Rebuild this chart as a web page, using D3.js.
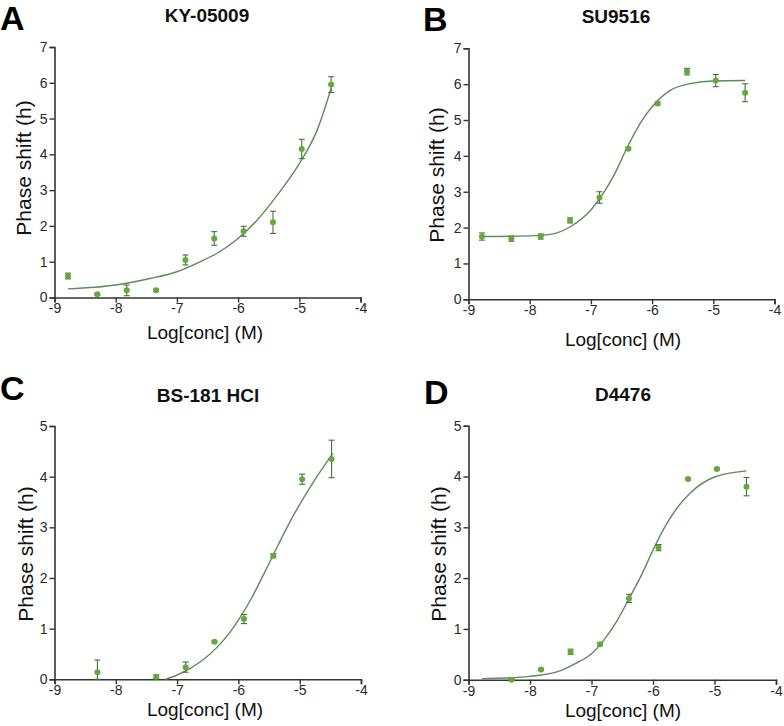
<!DOCTYPE html>
<html>
<head>
<meta charset="utf-8">
<script src="https://cdn.jsdelivr.net/npm/d3@7"></script>
<style>
  body { margin: 0; background: #fff; }
  svg { display: block; font-family: "Liberation Sans", Arial, sans-serif; }
</style>
</head>
<body>
<div class="board"></div>
<script>
// log concentrations (3-fold dilutions)
const logConc = [-8.78, -8.30, -7.82, -7.34, -6.86, -6.39, -5.91, -5.43, -4.96, -4.48];
const xTicks = [-9, -8, -7, -6, -5, -4];
const yTicks7 = [0, 1, 2, 3, 4, 5, 6, 7];
const yTicks5 = [0, 1, 2, 3, 4, 5];

// A: KY-05009
const kyMean = [0.60, 0.09, 0.20, 0.20, 1.05, 1.65, 1.85, 2.10, 4.15, 5.95];
const kyErr  = [0.08, 0.03, 0.15, 0.03, 0.14, 0.19, 0.14, 0.31, 0.27, 0.22];
const kyFitX = [-8.78, -8.0, -7.44, -7.0, -6.62, -6.35, -6.0, -5.69, -5.36, -5.0, -4.71, -4.48];
const kyFitY = [0.24, 0.35, 0.53, 0.72, 1.0, 1.23, 1.65, 2.16, 2.86, 3.74, 4.67, 5.84];

// B: SU9516
const suMean = [1.75, 1.69, 1.75, 2.20, 2.84, 4.20, 5.46, 6.35, 6.10, 5.76];
const suErr  = [0.10, 0.07, 0.07, 0.07, 0.16, 0.04, 0.04, 0.09, 0.17, 0.25];
const suFitX = [-8.78, -8.0, -7.66, -7.33, -7.0, -6.78, -6.62, -6.40, -6.18, -6.0, -5.69, -5.36, -5.0, -4.48];
const suFitY = [1.75, 1.77, 1.81, 2.03, 2.49, 3.0, 3.47, 4.26, 4.95, 5.37, 5.84, 6.02, 6.09, 6.10];

// C: BS-181 HCl (no data at -8.78 and -7.82)
const bsMean = [null, 0.14, null, 0.05, 0.24, 0.74, 1.19, 2.44, 3.95, 4.35];
const bsErr  = [null, 0.24, null, 0.04, 0.10, 0.02, 0.09, 0.04, 0.10, 0.37];
const bsFitX = [-7.19, -7.0, -6.78, -6.57, -6.35, -6.13, -6.0, -5.80, -5.58, -5.36, -5.1, -4.8, -4.46];
const bsFitY = [0, 0.085, 0.22, 0.39, 0.63, 0.94, 1.17, 1.57, 2.09, 2.63, 3.24, 3.85, 4.46];

// D: D4476 (no data at -8.78)
const d4Mean = [null, 0.0, 0.20, 0.55, 0.70, 1.60, 2.60, 3.95, 4.15, 3.80];
const d4Err  = [null, 0.01, 0.02, 0.05, 0.03, 0.08, 0.06, 0.02, 0.02, 0.18];
const d4FitX = [-8.78, -8.0, -7.5, -7.24, -7.0, -6.8, -6.58, -6.37, -6.2, -6.0, -5.83, -5.61, -5.39, -5.0, -4.48];
const d4FitY = [0.02, 0.066, 0.18, 0.33, 0.51, 0.78, 1.17, 1.64, 2.03, 2.55, 2.96, 3.38, 3.68, 3.99, 4.11];

const panels = [
  { letter: 'A', title: 'KY-05009', mean: kyMean, err: kyErr, fitX: kyFitX, fitY: kyFitY, yTicks: yTicks7,
    x0: 54.5, x1: 360.5, y0: 297.5, y1: 47, lx: 0, ly: 30, tx: 207, ty: 22, xlx: 205, xly: 339, ylx: 23, yly: 168 },
  { letter: 'B', title: 'SU9516', mean: suMean, err: suErr, fitX: suFitX, fitY: suFitY, yTicks: yTicks7,
    x0: 468.5, x1: 774.5, y0: 299.3, y1: 48.3, lx: 423, ly: 31, tx: 616, ty: 23, xlx: 623, xly: 346, ylx: 436, yly: 175 },
  { letter: 'C', title: 'BS-181 HCl', mean: bsMean, err: bsErr, fitX: bsFitX, fitY: bsFitY, yTicks: yTicks5,
    x0: 54.5, x1: 361, y0: 679.3, y1: 426, lx: 0, ly: 400, tx: 208, ty: 402, xlx: 205, xly: 716, ylx: 25, yly: 554 },
  { letter: 'D', title: 'D4476', mean: d4Mean, err: d4Err, fitX: d4FitX, fitY: d4FitY, yTicks: yTicks5,
    x0: 468.5, x1: 776, y0: 679.7, y1: 425.7, lx: 424, ly: 404, tx: 623, ty: 401, xlx: 623, xly: 717, ylx: 438, yly: 554 }
];

const svg = d3.select('.board').append('svg')
  .attr('width', 784)
  .attr('height', 726);

panels.forEach(p => {
  const x = d3.scaleLinear().domain([-9, -4]).range([p.x0, p.x1]);
  const yMax = d3.max(p.yTicks);
  const y = d3.scaleLinear().domain([0, yMax]).range([p.y0, p.y1]);
  const g = svg.append('g');

  // axes
  const xAxis = g.append('g')
    .attr('transform', `translate(0,${p.y0})`)
    .call(d3.axisBottom(x).tickValues(xTicks).tickSize(5).tickPadding(1).tickFormat(d => d));
  const yAxis = g.append('g')
    .attr('transform', `translate(${p.x0},0)`)
    .call(d3.axisLeft(y).tickValues(p.yTicks).tickSize(5).tickPadding(2).tickFormat(d => d));
  [xAxis, yAxis].forEach(a => {
    a.attr('font-size', 14).attr('font-family', '"Liberation Sans", Arial, sans-serif');
    a.select('.domain').attr('stroke', '#333').attr('stroke-width', 1.6);
    a.selectAll('.tick line').attr('stroke', '#333').attr('stroke-width', 1.4);
    a.selectAll('.tick text').attr('fill', '#2a2a2a');
  });

  // fitted curve
  const fit = p.fitX.map((v, i) => [v, p.fitY[i]]);
  g.append('path')
    .datum(fit)
    .attr('fill', 'none')
    .attr('stroke', '#5f8a5a')
    .attr('stroke-width', 1.4)
    .attr('d', d3.line().x(d => x(d[0])).y(d => y(d[1])).curve(d3.curveMonotoneX));

  const pts = logConc.map((c, i) => ({ c: c, m: p.mean[i], e: p.err[i] })).filter(d => d.m !== null);

  // error bars
  const eb = g.selectAll('.eb').data(pts).enter().append('g').attr('stroke', '#4d6a45').attr('stroke-width', 1.1);
  eb.append('line')
    .attr('x1', d => x(d.c)).attr('x2', d => x(d.c))
    .attr('y1', d => y(Math.max(0, d.m - d.e))).attr('y2', d => y(d.m + d.e));
  eb.append('line')
    .attr('x1', d => x(d.c) - 3).attr('x2', d => x(d.c) + 3)
    .attr('y1', d => y(d.m + d.e)).attr('y2', d => y(d.m + d.e));
  eb.append('line')
    .attr('x1', d => x(d.c) - 3).attr('x2', d => x(d.c) + 3)
    .attr('y1', d => y(Math.max(0, d.m - d.e))).attr('y2', d => y(Math.max(0, d.m - d.e)));

  // points
  g.selectAll('.pt').data(pts).enter().append('circle')
    .attr('cx', d => x(d.c))
    .attr('cy', d => y(d.m))
    .attr('r', 3)
    .attr('fill', '#64aa3a');

  // texts
  g.append('text').text(p.letter)
    .attr('x', p.lx).attr('y', p.ly)
    .attr('font-weight', 'bold').attr('font-size', '34px').attr('fill', '#000');
  g.append('text').text(p.title)
    .attr('x', p.tx).attr('y', p.ty)
    .attr('text-anchor', 'middle')
    .attr('font-weight', 'bold').attr('font-size', '19px').attr('fill', '#111');
  g.append('text').text('Log[conc] (M)')
    .attr('x', p.xlx).attr('y', p.xly)
    .attr('text-anchor', 'middle')
    .attr('font-size', '19px').attr('fill', '#111');
  g.append('text').text('Phase shift (h)')
    .attr('transform', `translate(${p.ylx},${p.yly}) rotate(-90)`)
    .attr('text-anchor', 'middle')
    .attr('dominant-baseline', 'central')
    .attr('font-size', '21px').attr('fill', '#111');
});
</script>
</body>
</html>
